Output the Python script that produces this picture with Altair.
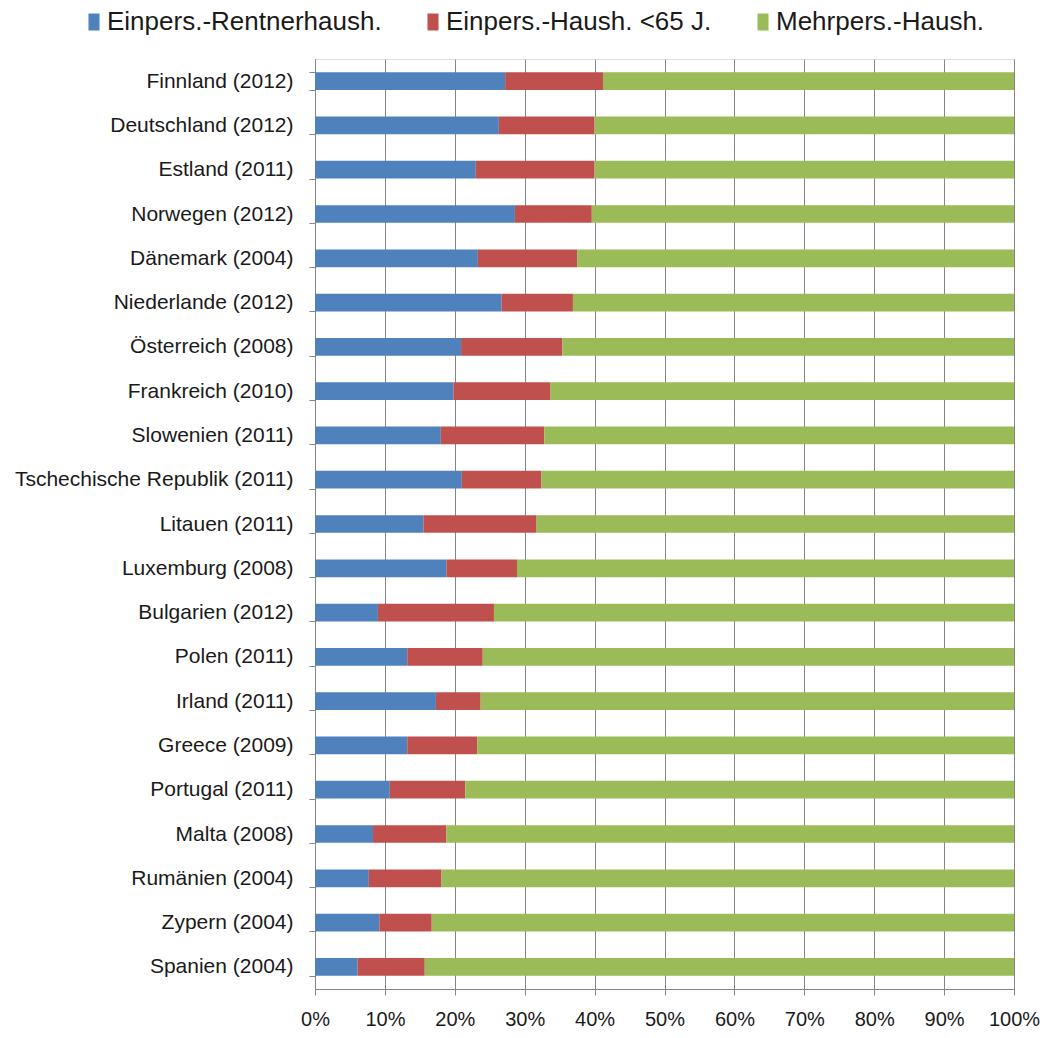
import altair as alt
import pandas as pd

# Household structure by country (shares in %, survey year in brackets)
countries = [
    "Finnland (2012)", "Deutschland (2012)", "Estland (2011)", "Norwegen (2012)",
    "Dänemark (2004)", "Niederlande (2012)", "Österreich (2008)", "Frankreich (2010)",
    "Slowenien (2011)", "Tschechische Republik (2011)", "Litauen (2011)",
    "Luxemburg (2008)", "Bulgarien (2012)", "Polen (2011)", "Irland (2011)",
    "Greece (2009)", "Portugal (2011)", "Malta (2008)", "Rumänien (2004)",
    "Zypern (2004)", "Spanien (2004)",
]
single_pensioner = [27.2, 26.3, 23.0, 28.6, 23.3, 26.7, 20.9, 19.8, 18.0, 21.0, 15.5,
                    18.8, 9.0, 13.2, 17.3, 13.2, 10.7, 8.3, 7.7, 9.2, 6.1]
single_under65 = [14.0, 13.7, 17.0, 11.0, 14.2, 10.2, 14.5, 13.9, 14.8, 11.4, 16.2,
                  10.1, 16.6, 10.8, 6.4, 10.0, 10.8, 10.5, 10.4, 7.5, 9.6]
multi_person = [58.8, 60.0, 60.0, 60.4, 62.5, 63.1, 64.6, 66.3, 67.2, 67.6, 68.3,
                71.1, 74.4, 76.0, 76.3, 76.8, 78.5, 81.2, 81.9, 83.3, 84.3]

series_names = ["Einpers.-Rentnerhaush.", "Einpers.-Haush. <65 J.", "Mehrpers.-Haush."]
series_colors = ["#4F81BD", "#C0504D", "#9BBB59"]
tick_values = [0, 10, 20, 30, 40, 50, 60, 70, 80, 90, 100]

rows = []
for i, land in enumerate(countries):
    for k, vals in enumerate([single_pensioner, single_under65, multi_person]):
        rows.append({"Land": land, "Typ": series_names[k], "Anteil": vals[i], "Reihe": k})
df = pd.DataFrame(rows)

label_font = "Liberation Sans, Arial, sans-serif"
axis_gray = "#868686"
text_color = "#1a1a1a"

chart = (
    alt.Chart(df)
    .mark_bar()
    .encode(
        y=alt.Y(
            "Land:N",
            sort=countries,
            scale=alt.Scale(paddingInner=0.6, paddingOuter=0.3),
            axis=alt.Axis(
                title=None,
                tickBand="extent",
                tickSize=6,
                tickColor=axis_gray,
                domainColor=axis_gray,
                labelFont=label_font,
                labelFontSize=21,
                labelColor=text_color,
                labelPadding=16,
                labelLimit=400,
                grid=False,
            ),
        ),
        x=alt.X(
            "Anteil:Q",
            stack="zero",
            scale=alt.Scale(domain=[0, 100], nice=False),
            axis=alt.Axis(
                title=None,
                values=tick_values,
                labelExpr="datum.value + '%'",
                grid=True,
                gridColor=axis_gray,
                tickColor=axis_gray,
                domainColor=axis_gray,
                tickSize=6,
                labelFont=label_font,
                labelFontSize=20,
                labelColor=text_color,
                labelPadding=14,
                labelFlush=False,
            ),
        ),
        order=alt.Order("Reihe:Q", sort="ascending"),
        color=alt.Color(
            "Typ:N",
            scale=alt.Scale(domain=series_names, range=series_colors),
            legend=alt.Legend(
                title=None,
                orient="none",
                legendX=-234,
                legendY=-50,
                direction="horizontal",
                symbolType="M-0.65,-1H0.65V1H-0.65Z",
                symbolSize=289,
                symbolStrokeWidth=0,
                labelFont=label_font,
                labelFontSize=26,
                labelColor=text_color,
                labelOffset=0,
                labelLimit=500,
                columnPadding=38,
            ),
        ),
    )
    .properties(
        width=699,
        height=930,
        autosize=alt.AutoSizeParams(type="none"),
        padding={"left": 315, "top": 59, "right": 32, "bottom": 49},
    )
    .configure_view(stroke=None)
    .configure(background="white")
)

chart.save("out.html", embed_options={"renderer": "svg", "actions": False})
